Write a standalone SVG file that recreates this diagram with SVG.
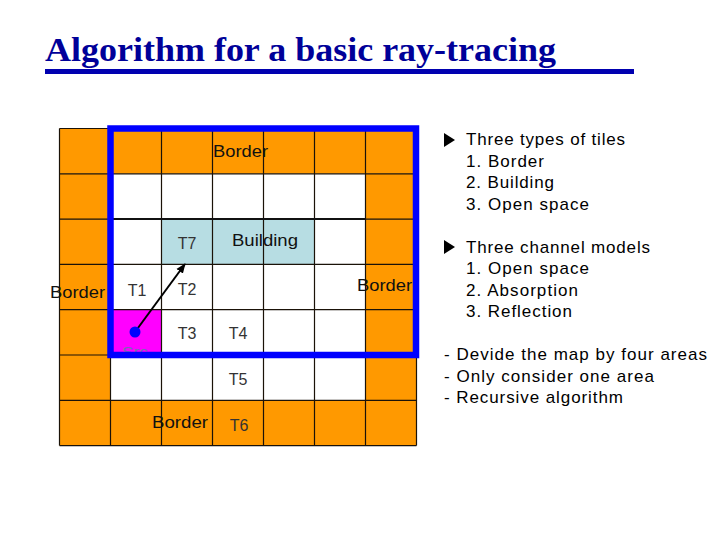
<svg xmlns="http://www.w3.org/2000/svg" width="720" height="540" viewBox="0 0 720 540">
<defs>
<style>
.o{fill:#FF9900}
.w{fill:#FFFFFF}
.b{fill:#B7DDE3}
.m{fill:#FF00FF}
.gl{stroke:#1a1208;stroke-width:1.2;fill:none}
.lbl{font-family:"Liberation Sans",Arial,sans-serif;font-size:17px;fill:#111}
.t{font-family:"Liberation Sans",Arial,sans-serif;font-size:16px;fill:#333;text-anchor:middle}
.rt{font-family:"Liberation Sans",Arial,sans-serif;font-size:17px;fill:#000}
</style>
<marker id="ah" viewBox="0 0 10 10" refX="9" refY="5" markerWidth="5" markerHeight="5" orient="auto">
<path d="M0,1 L10,5 L0,9 z" fill="#000"/>
</marker>
</defs>
<rect width="720" height="540" fill="#fff"/>
<g id="title">
<text x="45" y="61" font-family="'Liberation Serif','Times New Roman',serif" font-size="33" font-weight="bold" fill="#000099" textLength="511" lengthAdjust="spacingAndGlyphs">Algorithm for a basic ray-tracing</text>
<rect x="45" y="69" width="589" height="5" fill="#0000B0"/>
</g>
<g id="tiles">
<rect class="o" x="59.5" y="128.5" width="357" height="45.3"/>
<rect class="o" x="59.5" y="173.8" width="51" height="45.3"/>
<rect class="w" x="110.5" y="173.8" width="255" height="45.3"/>
<rect class="o" x="365.5" y="173.8" width="51" height="45.3"/>
<rect class="o" x="59.5" y="219.1" width="51" height="45.3"/>
<rect class="w" x="110.5" y="219.1" width="51" height="45.3"/>
<rect class="b" x="161.5" y="219.1" width="153" height="45.3"/>
<rect class="w" x="314.5" y="219.1" width="51" height="45.3"/>
<rect class="o" x="365.5" y="219.1" width="51" height="45.3"/>
<rect class="o" x="59.5" y="264.4" width="51" height="45.3"/>
<rect class="w" x="110.5" y="264.4" width="255" height="45.3"/>
<rect class="o" x="365.5" y="264.4" width="51" height="45.3"/>
<rect class="o" x="59.5" y="309.7" width="51" height="45.3"/>
<rect class="m" x="110.5" y="309.7" width="51" height="45.3"/>
<rect class="w" x="161.5" y="309.7" width="204" height="45.3"/>
<rect class="o" x="365.5" y="309.7" width="51" height="45.3"/>
<rect class="o" x="59.5" y="355" width="51" height="45.3"/>
<rect class="w" x="110.5" y="355" width="255" height="45.3"/>
<rect class="o" x="365.5" y="355" width="51" height="45.3"/>
<rect class="o" x="59.5" y="400.3" width="357" height="45.3"/>
<path class="gl" d="M59.5,128.5V445.6 M110.5,128.5V445.6 M161.5,128.5V445.6 M212.5,128.5V445.6 M263.5,128.5V445.6 M314.5,128.5V445.6 M365.5,128.5V445.6 M416.5,128.5V445.6 M59.5,128.5H416.5 M59.5,173.8H416.5 M59.5,219.1H416.5 M59.5,264.4H416.5 M59.5,309.7H416.5 M59.5,355H416.5 M59.5,400.3H416.5 M59.5,445.6H416.5"/>
<path d="M110.5,219.1H365.5" stroke="#111" stroke-width="2"/>
</g>
<g id="labels">
<text class="lbl" x="213" y="157" textLength="55" lengthAdjust="spacingAndGlyphs">Border</text>
<text class="lbl" x="50" y="298" textLength="55" lengthAdjust="spacingAndGlyphs">Border</text>
<text class="lbl" x="357" y="291" textLength="55" lengthAdjust="spacingAndGlyphs">Border</text>
<text class="lbl" x="152" y="428" textLength="56" lengthAdjust="spacingAndGlyphs">Border</text>
<text class="lbl" x="232" y="246" textLength="66" lengthAdjust="spacingAndGlyphs">Building</text>
<text class="t" x="187" y="249">T7</text>
<text class="t" x="137" y="296">T1</text>
<text class="t" x="187" y="295">T2</text>
<text class="t" x="187" y="339">T3</text>
<text class="t" x="238" y="339">T4</text>
<text class="t" x="238" y="385">T5</text>
<text class="t" x="239" y="431">T6</text>
<text x="122" y="357" font-family="'Liberation Sans',Arial,sans-serif" font-size="14" fill="#7070B0" textLength="26" lengthAdjust="spacingAndGlyphs">Src</text>
</g>
<g id="area">
<rect x="110.5" y="128.5" width="305.5" height="226.5" fill="none" stroke="#0000FF" stroke-width="6.5"/>
</g>
<g id="connectors">
<line x1="135" y1="332" x2="185" y2="264" stroke="#000" stroke-width="2" marker-end="url(#ah)"/>
<circle cx="135" cy="332" r="5.5" fill="#0000FF"/>
</g>
<g id="notes">
<path d="M444,133 L455,140 L444,147 z" fill="#000"/>
<text class="rt" x="466" y="145" textLength="159" lengthAdjust="spacing">Three types of tiles</text>
<text class="rt" x="466" y="166.5" textLength="78" lengthAdjust="spacing">1. Border</text>
<text class="rt" x="466" y="188" textLength="88" lengthAdjust="spacing">2. Building</text>
<text class="rt" x="466" y="209.5" textLength="123" lengthAdjust="spacing">3. Open space</text>
<path d="M444,240 L455,247 L444,254 z" fill="#000"/>
<text class="rt" x="466" y="252.5" textLength="184" lengthAdjust="spacing">Three channel models</text>
<text class="rt" x="466" y="274" textLength="123" lengthAdjust="spacing">1. Open space</text>
<text class="rt" x="466" y="295.5" textLength="112" lengthAdjust="spacing">2. Absorption</text>
<text class="rt" x="466" y="317" textLength="106" lengthAdjust="spacing">3. Reflection</text>
<text class="rt" x="444" y="360" textLength="263" lengthAdjust="spacing">- Devide the map by four areas</text>
<text class="rt" x="444" y="381.5" textLength="210" lengthAdjust="spacing">- Only consider one area</text>
<text class="rt" x="444" y="403" textLength="179" lengthAdjust="spacing">- Recursive algorithm</text>
</g>
</svg>
